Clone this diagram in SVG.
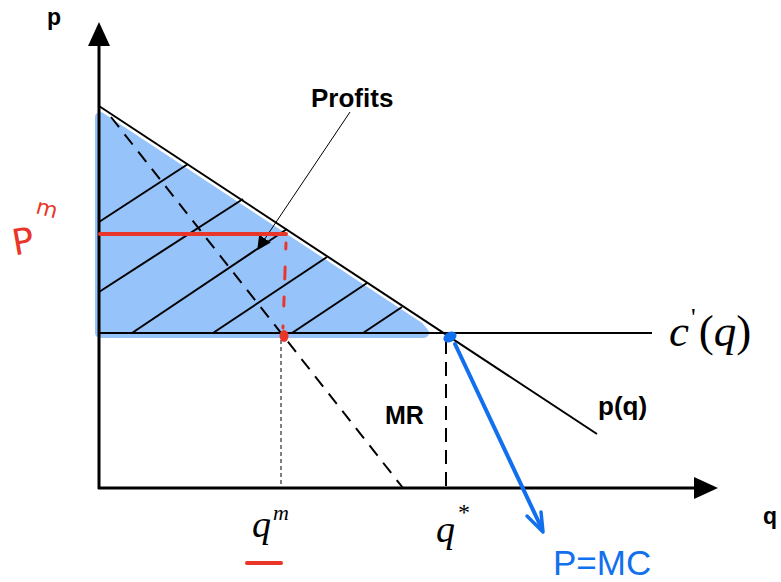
<svg xmlns="http://www.w3.org/2000/svg" width="781" height="582" viewBox="0 0 781 582">
<defs>
<style>
.ax{stroke:#000;stroke-width:3;fill:none}
.ln{stroke:#000;stroke-width:2;fill:none}
.hatch{stroke:#000;stroke-width:2;fill:none}
.lbl{font-family:"Liberation Sans",Arial,sans-serif;font-weight:bold;fill:#000}
.math{font-family:"Liberation Serif","Times New Roman",serif;fill:#000}
.red{stroke:#e8372a;fill:none;stroke-linecap:round}
.blue{stroke:#1270ee;fill:none;stroke-linecap:round;stroke-linejoin:round}
</style>
<marker id="tri" viewBox="0 0 10 10" refX="9" refY="5" markerWidth="14" markerHeight="14" markerUnits="userSpaceOnUse" orient="auto">
<path d="M0,0 L10,5 L0,10 z" fill="#000"/>
</marker>
</defs>
<rect width="781" height="582" fill="#fff"/>

<g id="profit-area">
<polygon points="100,117 419,327 424,333 100,333" fill="#97c3fb" stroke="#97c3fb" stroke-width="10" stroke-linejoin="round"/>
<g class="hatch">
<line x1="99" y1="222" x2="188" y2="164"/>
<line x1="99" y1="292" x2="243" y2="199"/>
<line x1="132" y1="333" x2="287" y2="229"/>
<line x1="213" y1="333" x2="327" y2="257"/>
<line x1="292" y1="333" x2="367" y2="283"/>
<line x1="363" y1="333" x2="402" y2="307"/>
</g>
</g>

<g id="axes">
<line class="ax" x1="99" y1="489" x2="99" y2="44"/>
<polygon points="99,22 88,46 110,46" fill="#000"/>
<line class="ax" x1="98" y1="488" x2="696" y2="488"/>
<polygon points="718,488 694,477 694,499" fill="#000"/>
<text class="lbl" x="47" y="25" font-size="23">p</text>
<text class="lbl" x="763" y="524" font-size="23">q</text>
</g>

<g id="connectors">
<line id="demand" class="ln" x1="99" y1="106" x2="597" y2="434"/>
<line id="mc" class="ln" x1="99" y1="333" x2="652" y2="333"/>
<line id="mr" class="ln" x1="111" y1="117" x2="403" y2="488" stroke-dasharray="13 9"/>
<line id="qstar-drop" class="ln" x1="446" y1="340" x2="446" y2="488" stroke-dasharray="14 8"/>
<line id="qm-drop" x1="281" y1="340" x2="281" y2="488" stroke="#000" stroke-width="1" stroke-dasharray="4 3"/>
<line id="profits-leader" x1="350" y1="112" x2="258" y2="249" stroke="#000" stroke-width="1" marker-end="url(#tri)"/>
</g>

<g id="labels">
<text class="lbl" x="311" y="107" font-size="26">Profits</text>
<text class="lbl" x="385" y="424" font-size="25">MR</text>
<text class="lbl" x="598" y="415" font-size="26">p(q)</text>
<text class="math" x="669" y="346" font-size="45"><tspan font-style="italic">c</tspan><tspan font-size="26" dx="2" dy="-20">'</tspan><tspan dx="3" dy="20">(</tspan><tspan font-style="italic">q</tspan>)</text>
<text class="math" x="252" y="537" font-size="38"><tspan font-style="italic">q</tspan><tspan font-style="italic" font-size="22" dx="2" dy="-17">m</tspan></text>
<text class="math" x="436" y="542" font-size="38"><tspan font-style="italic">q</tspan><tspan font-size="24" dx="3" dy="-22">*</tspan></text>
</g>

<g id="red-annotations">
<line class="red" x1="100" y1="234" x2="286" y2="234" stroke-width="4"/>
<line class="red" x1="286" y1="243" x2="283" y2="328" stroke-width="3" stroke-dasharray="6 18 12 18 9 20"/>
<ellipse cx="284" cy="336" rx="4.5" ry="6" fill="#e8372a"/>
<line class="red" x1="247" y1="563" x2="281" y2="563" stroke-width="4"/>
<text x="12" y="254" font-family="'DejaVu Sans',sans-serif" font-size="36" fill="#e8372a" transform="rotate(-10 22 240)">P</text>
<text x="36" y="216" font-family="'DejaVu Sans',sans-serif" font-size="22" fill="#e8372a" transform="rotate(15 47 210)">m</text>
</g>

<g id="blue-annotations">
<ellipse cx="450" cy="337" rx="7" ry="5" transform="rotate(-30 450 337)" fill="#1270ee"/>
<line class="blue" x1="455" y1="344" x2="542" y2="529" stroke-width="4"/>
<polyline class="blue" points="527,516 543,532 541,512" stroke-width="3.5"/>
<text x="553" y="575" font-family="'Liberation Sans',Arial,sans-serif" font-size="35" fill="#1270ee">P=MC</text>
</g>
</svg>
